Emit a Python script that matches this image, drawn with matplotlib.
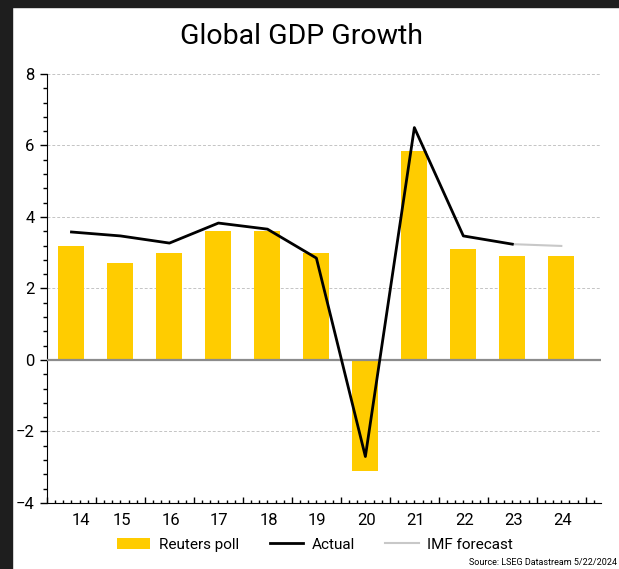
import numpy as np
import matplotlib
matplotlib.use("Agg")
from matplotlib import pyplot as plt
from matplotlib.patches import Rectangle
from matplotlib.ticker import MultipleLocator
import matplotlib.transforms as mtransforms

plt.rcParams["font.family"] = ["Roboto", "DejaVu Sans"]

years = ["14", "15", "16", "17", "18", "19", "20", "21", "22", "23", "24"]
reuters_poll = [3.2, 2.7, 3.0, 3.6, 3.6, 3.0, -3.1, 5.85, 3.1, 2.9, 2.9]
actual = [3.58, 3.47, 3.27, 3.83, 3.66, 2.85, -2.7, 6.5, 3.47, 3.24]
imf_years = ["23", "24"]
imf_forecast = [3.24, 3.19]

fig = plt.figure(figsize=(6.19, 5.69), dpi=100)
ax = fig.add_axes([0.0759, 0.116, 0.895, 0.754])

# dark frame on the left and top
fig.patches.append(Rectangle((0, 0), 12 / 619, 1, transform=fig.transFigure,
                             color="#1e1e1e", zorder=0))
fig.patches.append(Rectangle((0, 1 - 7 / 569), 1, 7 / 569, transform=fig.transFigure,
                             color="#1e1e1e", zorder=0))

x = np.arange(len(years))
ax.bar(x, reuters_poll, width=0.53, color="#ffcc00", zorder=2, label="Reuters poll")
ax.plot(x[: len(actual)], actual, c="k", lw=2, zorder=4, label="Actual")
xi = [years.index(y) for y in imf_years]
ax.plot(xi, imf_forecast, c="#c8c8c8", lw=1.5, zorder=3, label="IMF forecast")

ax.axhline(0, c="#8c8c8c", lw=1.6, zorder=3)

ax.set_xlim(-0.384, 10.81)
ax.set_ylim(-4, 8)

# grid
ax.yaxis.set_major_locator(MultipleLocator(2))
ax.yaxis.set_minor_locator(MultipleLocator(0.4))
ax.grid(axis="y", which="major", ls=(0, (3, 2)), c="#c4c4c4", lw=0.7, zorder=1)

# spines
for s in ["top", "right"]:
    ax.spines[s].set_visible(False)

# y ticks
ax.tick_params(axis="y", which="major", direction="out", length=5, width=1,
               labelsize=12, pad=4)
ax.tick_params(axis="y", which="minor", direction="out", length=3, width=1)

# x ticks: long ticks at category boundaries, short ones in between
ax.set_xticks(np.arange(-0.5, len(years) + 0.5, 1.0))
ax.set_xticklabels([])
ax.set_xticks(np.arange(-0.5, 10.81, 1 / 6), minor=True)
ax.tick_params(axis="x", which="major", direction="in", length=4, width=1)
ax.tick_params(axis="x", which="minor", direction="in", length=2.5, width=1)
for i, lab in enumerate(years):
    dx = 9 if i == 0 else 1
    off = mtransforms.ScaledTranslation(dx / 100, -0.10, fig.dpi_scale_trans)
    ax.text(i, 0, lab, transform=ax.get_xaxis_transform() + off,
            ha="center", va="top", fontsize=12)

fig.text(0.487, 0.936, "Global GDP Growth", ha="center", va="center", fontsize=20.5)

h, l = ax.get_legend_handles_labels()
fig.legend([h[l.index("Reuters poll")], h[l.index("Actual")], h[l.index("IMF forecast")]],
           ["Reuters poll", "Actual", "IMF forecast"],
           loc="center", bbox_to_anchor=(0.509, 0.043), ncol=3, frameon=False,
           fontsize=11, handlelength=2.2, handletextpad=0.55, columnspacing=2.0)

fig.text(0.997, 0.003, "Source: LSEG Datastream 5/22/2024", ha="right", va="bottom",
         fontsize=6.5)

fig.savefig("out.png", dpi=100)
